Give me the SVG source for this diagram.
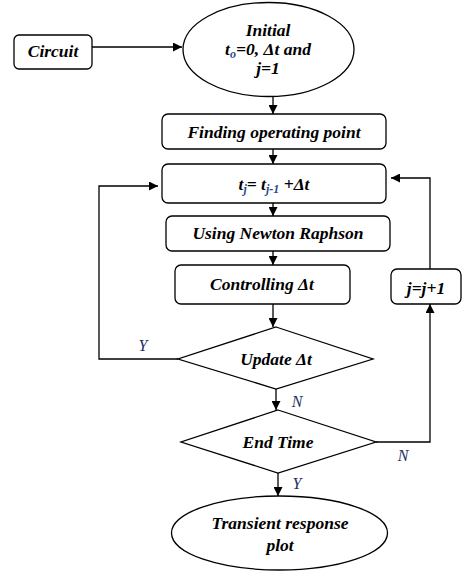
<svg xmlns="http://www.w3.org/2000/svg" width="463" height="573" viewBox="0 0 463 573">
<defs>
<marker id="ah" viewBox="0 0 10 10" refX="10" refY="5" markerWidth="9" markerHeight="9" markerUnits="userSpaceOnUse" orient="auto">
<path d="M0,0 L10,5 L0,10 z" fill="#000"/>
</marker>
<style>
.s{fill:#fff;stroke:#000;stroke-width:1.3}
.t{font-family:"Liberation Serif","Times New Roman",serif;font-weight:bold;font-style:italic;font-size:17.5px;fill:#000;text-anchor:middle}
.l{font-family:"Liberation Serif","Times New Roman",serif;font-style:italic;font-size:16px;fill:#1F2F5F;text-anchor:middle}
.sub{fill:#2A4A8A;font-size:12px}
.c{fill:none;stroke:#000;stroke-width:1.3}
</style>
</defs>
<rect width="463" height="573" fill="#fff"/>
<g id="connectors">
<path class="c" d="M92,47 H182" marker-end="url(#ah)"/>
<path class="c" d="M273,97 V114" marker-end="url(#ah)"/>
<path class="c" d="M273,149 V164" marker-end="url(#ah)"/>
<path class="c" d="M273,203 V216" marker-end="url(#ah)"/>
<path class="c" d="M273,251 V265" marker-end="url(#ah)"/>
<path class="c" d="M273,304 V327" marker-end="url(#ah)"/>
<path class="c" d="M178,359 H99 V186 H158" marker-end="url(#ah)"/>
<path class="c" d="M276,389 V410" marker-end="url(#ah)"/>
<path class="c" d="M376,442 H430 V304" marker-end="url(#ah)"/>
<path class="c" d="M430,269 V178 H391" marker-end="url(#ah)"/>
<path class="c" d="M278,473 V496" marker-end="url(#ah)"/>
<text class="l" x="143" y="351">Y</text>
<text class="l" x="297" y="407">N</text>
<text class="l" x="403" y="461">N</text>
<text class="l" x="297" y="489">Y</text>
</g>
<g id="circuit">
<rect class="s" x="14" y="35" width="78" height="34" rx="5"/>
<text class="t" x="53" y="57">Circuit</text>
</g>
<g id="initial">
<ellipse class="s" cx="268.5" cy="49.5" rx="85.5" ry="47"/>
<text class="t" x="268" y="36">Initial</text>
<text class="t" x="268" y="55">t<tspan class="sub" dy="3">o</tspan><tspan dy="-3">=0,  Δt and</tspan></text>
<text class="t" x="268" y="74">j=1</text>
</g>
<g id="finding">
<rect class="s" x="162" y="114" width="224" height="35" rx="6"/>
<text class="t" x="274" y="138">Finding operating point</text>
</g>
<g id="tj">
<rect class="s" x="162" y="164" width="224" height="39" rx="6"/>
<text class="t" x="274" y="190">t<tspan class="sub" dy="3">j</tspan><tspan dy="-3">= t</tspan><tspan class="sub" dy="3">j-1</tspan><tspan dy="-3"> +Δt</tspan></text>
</g>
<g id="newton">
<rect class="s" x="166" y="216" width="224" height="35" rx="6"/>
<text class="t" x="278" y="239">Using Newton Raphson</text>
</g>
<g id="controlling">
<rect class="s" x="175" y="265" width="175" height="39" rx="6"/>
<text class="t" x="262" y="290">Controlling Δt</text>
</g>
<g id="jinc">
<rect class="s" x="391" y="269" width="70" height="35" rx="6"/>
<text class="t" x="426" y="294">j=j+1</text>
</g>
<g id="update">
<polygon class="s" points="276,327 373,359 276,389 178,359"/>
<text class="t" x="276" y="365">Update Δt</text>
</g>
<g id="endtime">
<polygon class="s" points="278,410 376,442 278,473 181,442"/>
<text class="t" x="278" y="448">End Time</text>
</g>
<g id="plot">
<ellipse class="s" cx="279.5" cy="533" rx="108" ry="37"/>
<text class="t" x="280" y="529">Transient response</text>
<text class="t" x="280" y="551">plot</text>
</g>
</svg>
